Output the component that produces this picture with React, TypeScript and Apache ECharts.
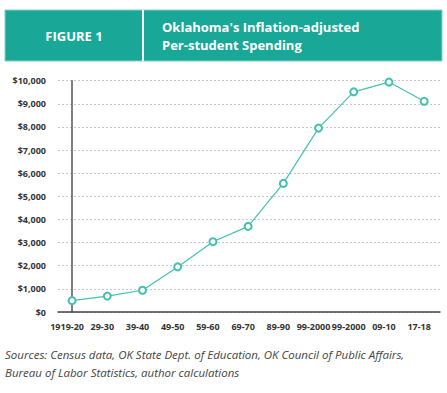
import React, { useEffect, useRef } from "react";
import * as echarts from "echarts";

const categories = ["1919-20", "29-30", "39-40", "49-50", "59-60", "69-70", "89-90", "99-2000", "99-2000", "09-10", "17-18"];
const spending = [490, 690, 940, 1950, 3040, 3700, 5560, 7950, 9520, 9940, 9110];
const headerLabel = "FIGURE 1";
const titleLines = ["Oklahoma's Inflation-adjusted", "Per-student Spending"];
const sourceLines = [
  "Sources: Census data, OK State Dept. of Education, OK Council of Public Affairs,",
  "Bureau of Labor Statistics, author calculations",
];

export default function App() {
  const ref = useRef<HTMLDivElement>(null);
  useEffect(() => {
    const chart = echarts.init(ref.current!, null, { renderer: "svg" });
    const font = "'Open Sans', sans-serif";
    chart.setOption({
      animation: false,
      backgroundColor: "#fff",
      grid: { left: 58, right: 7, top: 80.7, bottom: 81 },
      xAxis: {
        type: "value",
        min: -0.4,
        max: 10.45,
        splitLine: { show: false },
        axisLine: { show: true, lineStyle: { color: "#444", width: 1.5 } },
        axisTick: { show: false },
        axisLabel: {
          customValues: categories.map((_, i) => i),
          formatter: (v: number) => categories[Math.round(v)] ?? "",
          fontFamily: font,
          fontWeight: "bold",
          fontSize: 9,
          color: "#333",
          margin: 10,
          padding: [0, 10, 0, 0],
        },
      },
      yAxis: {
        type: "value",
        min: 0,
        max: 10000,
        interval: 1000,
        axisLine: { show: true, lineStyle: { color: "#555", width: 1.5 } },
        axisTick: { show: false },
        splitLine: { show: true, lineStyle: { color: "#c8c8c8", type: [2, 2], width: 1 } },
        axisLabel: {
          formatter: (v: number) => "$" + v.toLocaleString("en-US"),
          fontFamily: font,
          fontWeight: "bold",
          fontSize: 9,
          color: "#333",
          margin: 12,
        },
      },
      series: [
        {
          type: "line",
          data: spending.map((v, i) => [i, v]),
          symbol: "emptyCircle",
          symbolSize: 7,
          lineStyle: { color: "#45bfb2", width: 1.2 },
          itemStyle: { color: "#45bfb2", borderWidth: 1 },
        },
      ],
      graphic: [
        {
          type: "rect",
          shape: { x: 5, y: 10, width: 437, height: 51 },
          style: { fill: "#19a898", stroke: "#7fd3c9", lineWidth: 1 },
        },
        {
          type: "line",
          shape: { x1: 143, y1: 10, x2: 143, y2: 61 },
          style: { stroke: "#ffffff", lineWidth: 2 },
        },
        {
          type: "text",
          x: 74,
          y: 36,
          style: {
            text: headerLabel,
            fill: "#fff",
            font: `bold 13px ${font}`,
            align: "center",
            verticalAlign: "middle",
          },
        },
        {
          type: "text",
          x: 162,
          y: 27,
          style: { text: titleLines[0], fill: "#fff", font: `bold 13px ${font}`, verticalAlign: "middle" },
        },
        {
          type: "text",
          x: 162,
          y: 44.5,
          style: { text: titleLines[1], fill: "#fff", font: `bold 13px ${font}`, verticalAlign: "middle" },
        },
        {
          type: "text",
          x: 5,
          y: 354,
          style: { text: sourceLines[0], fill: "#444", font: `italic 11.5px ${font}`, verticalAlign: "middle" },
        },
        {
          type: "text",
          x: 5,
          y: 372,
          style: { text: sourceLines[1], fill: "#444", font: `italic 11.5px ${font}`, verticalAlign: "middle" },
        },
      ],
    });
    return () => chart.dispose();
  }, []);
  return <div ref={ref} style={{ width: 447, height: 393, position: "fixed", left: 0, top: 0 }} />;
}
